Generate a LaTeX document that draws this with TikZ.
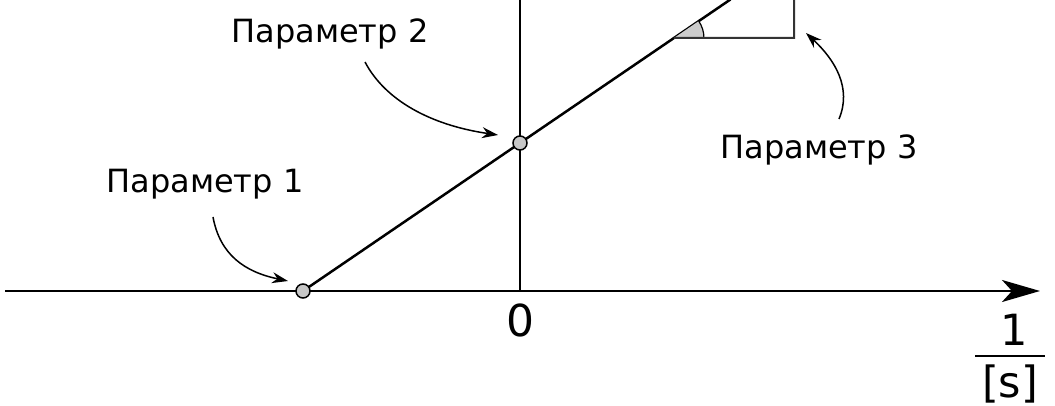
\documentclass[tikz,border=0pt]{standalone}
\usepackage{fontspec}
\setmainfont{DejaVu Sans}
\usetikzlibrary{arrows.meta,calc}

\begin{document}
\begin{tikzpicture}[x=1pt,y=-1pt,>=Stealth,
    pt/.style={circle,draw,line width=1.5pt,fill=black!22,
      minimum size=14pt,inner sep=0pt},
    lbl/.style={anchor=base,font=\fontsize{32}{38}\selectfont},
    big/.style={anchor=base,font=\fontsize{43}{52}\selectfont},
    pointer/.style={-{Stealth[length=16pt,width=11pt]},line width=1.5pt}]
    \useasboundingbox (0,0) rectangle (1055,406);
    \clip (0,0) rectangle (1055,406);

    % axes
    \coordinate (xs) at (5,291);
    \coordinate (xe) at (1040,291);
    \coordinate (o) at (520,291);
    \coordinate (yt) at (520,0);
    \draw[line width=2.5pt,-{Stealth[length=38pt,width=22pt,inset=10pt]}]
      (xs) -- (xe);
    \draw[line width=2.5pt] (o) -- (yt);

    % straight line
    \coordinate (c1) at (303,291);
    \coordinate (c2) at (520,143);
    \draw[line width=2.5pt] (c1) -- ($(c1)!1.97!(c2)$);

    % slope triangle
    \coordinate (tri) at ($(c1)!{253/148}!(c2)$);
    \coordinate (tc) at (794,38);
    \coordinate (tt) at (794,0);
    \fill[black!20] (tri) -- ++(30,0) arc[start angle=0,end angle=-34.3,radius=30] -- cycle;
    \draw[line width=1.2pt] ($(tri)+(30,0)$) arc[start angle=0,end angle=-34.3,radius=30];
    \draw[line width=2pt,black!80] (tri) -- (tc) -- (tt);

    \node[pt] (p1) at (c1) {};
    \node[pt] (p2) at (c2) {};

    % labels
    \node[lbl] (par1) at (205,193) {Параметр 1};
    \node[lbl] (par2) at (330,43) {Параметр 2};
    \node[lbl] (par3) at (819,159) {Параметр 3};
    \node[big,font=\fontsize{44}{52}\selectfont] (zero) at (520,336) {0};
    \node[big] (num) at (1014,345) {1};
    \node[big] (den) at (1010,397) {[s]};
    \draw[line width=2pt] (975,356) -- (1045,356);

    % pointers
    \coordinate (s1) at (213,217);
    \coordinate (e1) at (288,281);
    \coordinate (s2) at (365,62);
    \coordinate (e2) at (498,135);
    \coordinate (s3) at (839,119);
    \coordinate (e3) at (806,33);
    \draw[pointer] (s1) .. controls (220,255) and (245,272) .. (e1);
    \draw[pointer] (s2) .. controls (385,100) and (430,125) .. (e2);
    \draw[pointer] (s3) .. controls (852,88) and (835,60) .. (e3);
  \end{tikzpicture}
\end{document}
